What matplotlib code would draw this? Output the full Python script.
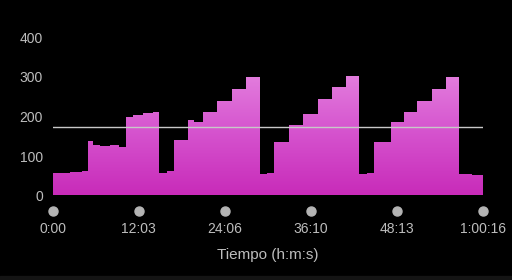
import matplotlib
matplotlib.use("Agg")
import matplotlib.pyplot as plt
import numpy as np
from matplotlib.colors import LinearSegmentedColormap
from matplotlib.patches import Rectangle

# power steps: start time (s) and watts held until the next start
step_start = [0, 150, 250,
              300, 340, 400, 480, 560,
              617, 680, 760, 840,
              894, 960,
              1024, 1139, 1190, 1263, 1384, 1504, 1624,
              1741, 1800,
              1863, 1984, 2104, 2230, 2351, 2468,
              2574, 2640,
              2700, 2846, 2952, 3061, 3190, 3302,
              3413, 3520]
step_watts = [57, 59, 61,
              138, 128, 125, 127, 124,
              200, 205, 208, 211,
              58, 62,
              140, 191, 186, 212, 240, 269, 299,
              54, 57,
              136, 178, 207, 245, 274, 302,
              54, 57,
              136, 185, 212, 240, 269, 299,
              55, 52]
end_time = 3616
ftp = 174

tick_secs = [0, 723, 1446, 2170, 2893, 3616]
tick_labels = ["0:00", "12:03", "24:06", "36:10", "48:13", "1:00:16"]
y_ticks = [0, 100, 200, 300, 400]

plt.rcParams["font.family"] = ["Liberation Sans", "DejaVu Sans"]
grey = "#bdbdbd"

fig = plt.figure(figsize=(5.12, 2.8), dpi=100, facecolor="black")
ax = fig.add_axes([52.5 / 512, (280 - 195.5) / 280, (483 - 52.5) / 512, 158 / 280])
ax.set_facecolor("black")
fig.patches.append(Rectangle((0, 0), 1, 4 / 280, transform=fig.transFigure,
                             color="#141414", zorder=0))

xs = step_start + [end_time]
ys = step_watts + [step_watts[-1]]
poly = ax.fill_between(xs, 0, ys, step="post", facecolor="none", lw=0)

cmap = LinearSegmentedColormap.from_list("pw", ["#c82bb9", "#d655cf", "#e585e0"])
grad = np.linspace(0, 1, 256).reshape(-1, 1)
im = ax.imshow(grad, cmap=cmap, origin="lower", aspect="auto",
               extent=[0, end_time, 0, 330], zorder=1)
im.set_clip_path(poly.get_paths()[0], transform=ax.transData)

ax.axhline(ftp, color="#c8c8c8", lw=1, zorder=2)

ax.set_xlim(0, end_time)
ax.set_ylim(0, 400)
ax.set_yticks(y_ticks)
ax.set_xticks(tick_secs, tick_labels)
ax.tick_params(axis="y", length=0, pad=7, labelsize=10, labelcolor=grey)
ax.tick_params(axis="x", length=0, pad=19, labelsize=10, labelcolor=grey)
ax.set_xlabel("Tiempo (h:m:s)", color=grey, fontsize=11, labelpad=9)
for s in ax.spines.values():
    s.set_visible(False)

ax.plot(tick_secs, [-39] * len(tick_secs), "o", ms=6.5, color="#b4b4b4",
        clip_on=False, zorder=3)

fig.savefig("out.png", dpi=100, facecolor="black")
